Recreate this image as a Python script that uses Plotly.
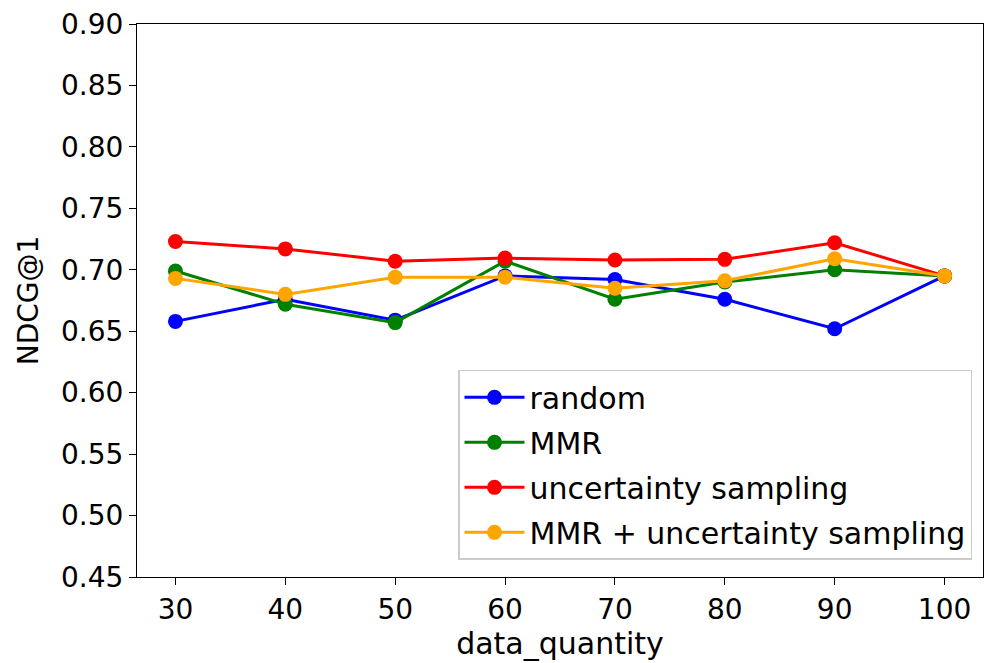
import plotly.graph_objects as go

data_quantity = [30, 40, 50, 60, 70, 80, 90, 100]
random_vals = [0.658, 0.676, 0.659, 0.695, 0.692, 0.676, 0.652, 0.695]
mmr_vals = [0.699, 0.672, 0.657, 0.707, 0.676, 0.690, 0.700, 0.695]
unc_vals = [0.723, 0.717, 0.707, 0.7095, 0.708, 0.7085, 0.722, 0.695]
mmr_unc_vals = [0.693, 0.680, 0.694, 0.694, 0.685, 0.691, 0.709, 0.695]
y_ticks = [0.45, 0.50, 0.55, 0.60, 0.65, 0.70, 0.75, 0.80, 0.85, 0.90]

series = [
    ("random", random_vals, "blue"),
    ("MMR", mmr_vals, "green"),
    ("uncertainty sampling", unc_vals, "red"),
    ("MMR + uncertainty sampling", mmr_unc_vals, "orange"),
]

fig = go.Figure()
for i, (name, vals, color) in enumerate(series):
    fig.add_trace(go.Scatter(
        x=data_quantity, y=vals, name=name, mode="lines+markers",
        legendgroup=f"g{i}",
        line=dict(color=color, width=3),
        marker=dict(color=color, size=15),
    ))

font = "DejaVu Sans, sans-serif"
fig.update_layout(
    width=985, height=663,
    margin=dict(l=137, r=2, t=24, b=86),
    paper_bgcolor="white", plot_bgcolor="white",
    font=dict(family=font, size=28, color="black"),
    showlegend=True,
    legend=dict(
        x=0.987, y=0.031, xanchor="right", yanchor="bottom",
        bgcolor="rgba(255,255,255,0.8)", bordercolor="#cccccc", borderwidth=1.5,
        font=dict(size=30), itemwidth=60, tracegroupgap=3,
    ),
)
fig.update_xaxes(
    range=[26.5, 103.5], tickvals=data_quantity, ticktext=[str(v) for v in data_quantity],
    showgrid=False, zeroline=False, showline=True, linecolor="black", linewidth=1.2,
    mirror=True, ticks="outside", ticklen=7, tickwidth=1.2, tickcolor="black",
    title=dict(text="data_quantity", font=dict(size=30), standoff=7),
    tickfont=dict(size=28),
)
fig.update_yaxes(
    range=[0.45, 0.90], tickvals=y_ticks, ticktext=[f"{v:.2f}" for v in y_ticks],
    showgrid=False, zeroline=False, showline=True, linecolor="black", linewidth=1.2,
    mirror=True, ticks="outside", ticklen=7, tickwidth=1.2, tickcolor="black",
    title=dict(text="NDCG@1", font=dict(size=28), standoff=14),
    tickfont=dict(size=28),
)

fig.write_html("out.html")
